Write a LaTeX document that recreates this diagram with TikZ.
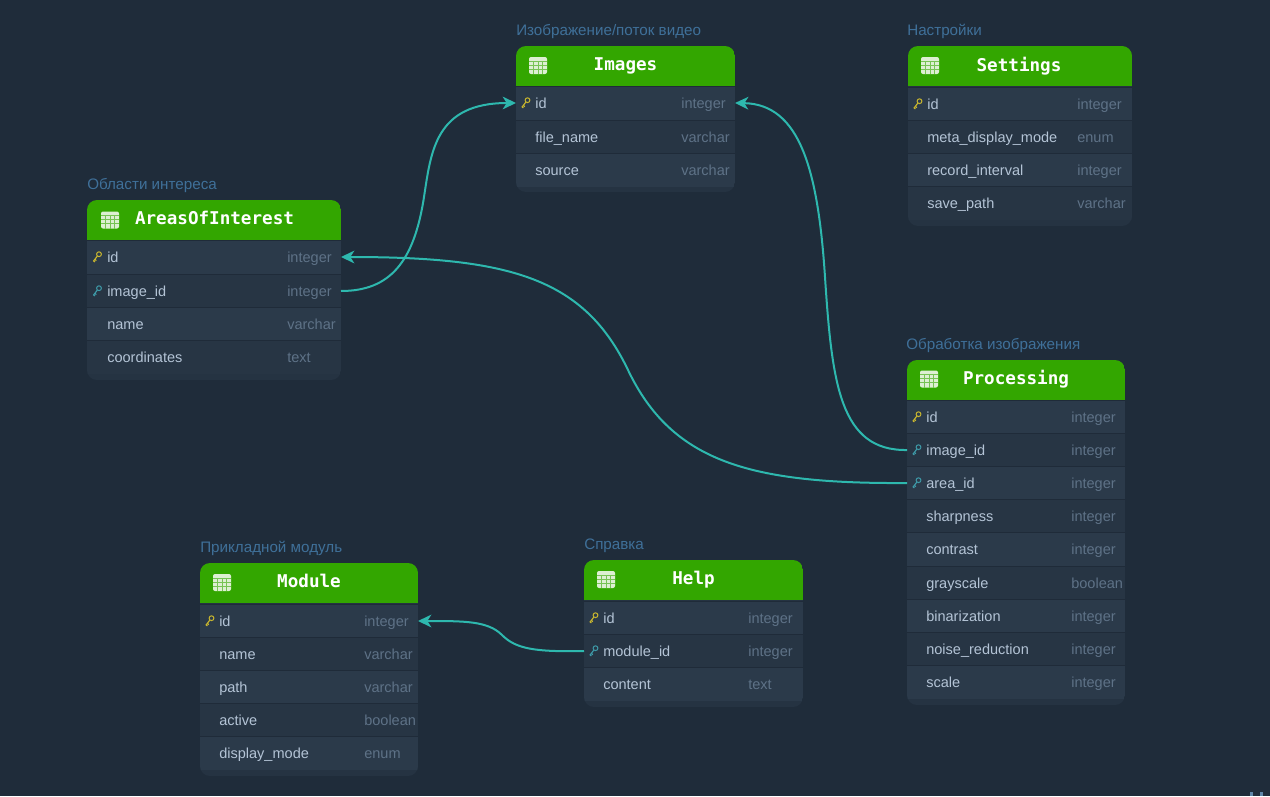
\documentclass[tikz,border=0pt]{standalone}
\usepackage{fontspec}
\setmainfont{Liberation Sans}
\setmonofont{DejaVu Sans Mono}
\usetikzlibrary{arrows.meta}

\definecolor{pagebg}{HTML}{1F2C3A}
\definecolor{bodyfill}{HTML}{253342}
\definecolor{rowodd}{HTML}{2B3A4A}
\definecolor{roweven}{HTML}{273544}
\definecolor{rowsep}{HTML}{1F2B39}
\definecolor{headgreen}{HTML}{33A600}
\definecolor{captionblue}{HTML}{3F7099}
\definecolor{nametext}{HTML}{B4C4D6}
\definecolor{typetext}{HTML}{5E7287}
\definecolor{linkteal}{HTML}{2EB8AE}
\definecolor{keygold}{HTML}{C8B62E}
\definecolor{keyteal}{HTML}{3E9AA8}
\definecolor{iconfill}{HTML}{DDEFD2}
\definecolor{tickblue}{HTML}{5F86A8}

\begin{document}
\begin{tikzpicture}[
    x=0.75pt,
    y=-0.75pt,
    caption/.style={anchor=base west,inner sep=0pt,text=captionblue,font=\fontsize{11.4}{13}\selectfont},
    title/.style={anchor=base,inner sep=0pt,text=white,font=\ttfamily\bfseries\fontsize{13.2}{15}\selectfont},
    rowband/.style={inner sep=0pt,outer sep=0pt,minimum height=24.8pt},
    rowband0/.style={rowband,fill=roweven},
    rowband1/.style={rowband,fill=rowodd},
    rowline/.style={draw=rowsep,line width=0.75pt},
    fieldname/.style={anchor=base west,inner sep=0pt,text=nametext,font=\fontsize{10.9}{12}\selectfont},
    fieldtype/.style={anchor=base west,inner sep=0pt,text=typetext,font=\fontsize{10.9}{12}\selectfont},
    link/.style={draw=linkteal,line width=1.5pt,-{Stealth[length=10pt,width=9.5pt,inset=3pt]}},
    keyicon/.pic={
        \draw[line width=0.75pt] (2,-2.8) circle (2.4);
        \draw[line width=0.85pt] (0.4,-1) -- (-3.6,4.2) (-2.2,2.4) -- (-0.6,3.6) (-3.4,3.9) -- (-2.1,5);
    },
    tableicon/.pic={
        \fill[iconfill,rounded corners=1.5pt] (-9,-8.5) rectangle (9,8.5);
        \foreach \gridx in {-4.5,0,4.5}
            \draw[headgreen!60!iconfill,line width=0.5pt] (\gridx,-4.5) -- (\gridx,8.5);
        \foreach \gridy in {-4.5,-0.5,3.5}
            \draw[headgreen!60!iconfill,line width=0.5pt] (-9,\gridy) -- (9,\gridy);
    }
]

\fill[pagebg] (0,0) rectangle (1270,796);
\useasboundingbox (0,0) rectangle (1270,796);

% --------------------------------------------------
% Images
% --------------------------------------------------

\begin{scope}[shift={(516,46)}]
    \node[caption] (images-caption) at (0,-11) {Изображение/поток видео};
    \clip[rounded corners=7.5pt] (0,0) rectangle (219,146);
    \fill[bodyfill] (0,0) rectangle (219,146);
    \fill[headgreen] (0,0) rectangle (219,40);
    \node[title] (images-title) at (109.5,24) {Images};
    \pic at (22,19.5) {tableicon};
    \foreach \rowkey/\rowy/\rowname/\rowtype [count=\rownum] in {id/57/id/integer,file/91/file\_name/varchar,source/124/source/varchar}
    {
        \pgfmathtruncatemacro\rowshade{mod(\rownum,2)}
        \node[rowband\rowshade,minimum width=164.25pt] (images-\rowkey) at (109.5,\rowy) {};
        \draw[rowline] (images-\rowkey.north west) -- (images-\rowkey.north east);
        \node[fieldname] (images-\rowkey-name) at (19,\rowy+5) {\rowname};
        \node[fieldtype] (images-\rowkey-type) at (165,\rowy+5) {\rowtype};
    }
    \pic[color=keygold] at (9.5,57) {keyicon};
\end{scope}

% --------------------------------------------------
% Settings
% --------------------------------------------------

\begin{scope}[shift={(908,46)}]
    \node[caption] (settings-caption) at (-1,-11) {Настройки};
    \clip[rounded corners=7.5pt] (0,0) rectangle (224,180);
    \fill[bodyfill] (0,0) rectangle (224,180);
    \fill[headgreen] (0,0) rectangle (224,40);
    \node[title] (settings-title) at (111,25) {Settings};
    \pic at (22,19.5) {tableicon};
    \foreach \rowkey/\rowy/\rowname/\rowtype [count=\rownum] in {id/58/id/integer,meta/91/meta\_display\_mode/enum,record/124/record\_interval/integer,save/157/save\_path/varchar}
    {
        \pgfmathtruncatemacro\rowshade{mod(\rownum,2)}
        \node[rowband\rowshade,minimum width=168pt] (settings-\rowkey) at (112,\rowy) {};
        \draw[rowline] (settings-\rowkey.north west) -- (settings-\rowkey.north east);
        \node[fieldname] (settings-\rowkey-name) at (19,\rowy+5) {\rowname};
        \node[fieldtype] (settings-\rowkey-type) at (169,\rowy+5) {\rowtype};
    }
    \pic[color=keygold] at (9.5,58) {keyicon};
\end{scope}

% --------------------------------------------------
% AreasOfInterest
% --------------------------------------------------

\begin{scope}[shift={(87,200)}]
    \node[caption] (areas-caption) at (0,-11) {Области интереса};
    \clip[rounded corners=7.5pt] (0,0) rectangle (254,180);
    \fill[bodyfill] (0,0) rectangle (254,180);
    \fill[headgreen] (0,0) rectangle (254,40);
    \node[title] (areas-title) at (127.5,24) {AreasOfInterest};
    \pic at (23,20) {tableicon};
    \foreach \rowkey/\rowy/\rowname/\rowtype [count=\rownum] in {id/57/id/integer,image/91/image\_id/integer,name/124/name/varchar,coord/157/coordinates/text}
    {
        \pgfmathtruncatemacro\rowshade{mod(\rownum,2)}
        \node[rowband\rowshade,minimum width=190.5pt] (areas-\rowkey) at (127,\rowy) {};
        \draw[rowline] (areas-\rowkey.north west) -- (areas-\rowkey.north east);
        \node[fieldname] (areas-\rowkey-name) at (20,\rowy+5) {\rowname};
        \node[fieldtype] (areas-\rowkey-type) at (200,\rowy+5) {\rowtype};
    }
    \pic[color=keygold] at (10,57) {keyicon};
    \pic[color=keyteal] at (10,91) {keyicon};
\end{scope}

% --------------------------------------------------
% Processing
% --------------------------------------------------

\begin{scope}[shift={(907,360)}]
    \node[caption] (processing-caption) at (-1,-11) {Обработка изображения};
    \clip[rounded corners=7.5pt] (0,0) rectangle (218,345);
    \fill[bodyfill] (0,0) rectangle (218,345);
    \fill[headgreen] (0,0) rectangle (218,40);
    \node[title] (processing-title) at (109,24) {Processing};
    \pic at (22,19) {tableicon};
    \foreach \rowkey/\rowy/\rowname/\rowtype [count=\rownum] in {id/57/id/integer,image/90/image\_id/integer,area/123/area\_id/integer,sharp/156/sharpness/integer,contrast/189/contrast/integer,gray/223/grayscale/boolean,binar/256/binarization/integer,noise/289/noise\_reduction/integer,scale/322/scale/integer}
    {
        \pgfmathtruncatemacro\rowshade{mod(\rownum,2)}
        \node[rowband\rowshade,minimum width=163.5pt] (processing-\rowkey) at (109,\rowy) {};
        \draw[rowline] (processing-\rowkey.north west) -- (processing-\rowkey.north east);
        \node[fieldname] (processing-\rowkey-name) at (19,\rowy+5) {\rowname};
        \node[fieldtype] (processing-\rowkey-type) at (164,\rowy+5) {\rowtype};
    }
    \pic[color=keygold] at (9.5,57) {keyicon};
    \pic[color=keyteal] at (9.5,90) {keyicon};
    \pic[color=keyteal] at (9.5,123) {keyicon};
\end{scope}

% --------------------------------------------------
% Module
% --------------------------------------------------

\begin{scope}[shift={(200,563)}]
    \node[caption] (module-caption) at (0,-11) {Прикладной модуль};
    \clip[rounded corners=7.5pt] (0,0) rectangle (218,213);
    \fill[bodyfill] (0,0) rectangle (218,213);
    \fill[headgreen] (0,0) rectangle (218,40);
    \node[title] (module-title) at (109,24) {Module};
    \pic at (22,19.5) {tableicon};
    \foreach \rowkey/\rowy/\rowname/\rowtype [count=\rownum] in {id/58/id/integer,name/91/name/varchar,path/124/path/varchar,active/157/active/boolean,display/190/display\_mode/enum}
    {
        \pgfmathtruncatemacro\rowshade{mod(\rownum,2)}
        \node[rowband\rowshade,minimum width=163.5pt] (module-\rowkey) at (109,\rowy) {};
        \draw[rowline] (module-\rowkey.north west) -- (module-\rowkey.north east);
        \node[fieldname] (module-\rowkey-name) at (19,\rowy+5) {\rowname};
        \node[fieldtype] (module-\rowkey-type) at (164,\rowy+5) {\rowtype};
    }
    \pic[color=keygold] at (9.5,58) {keyicon};
\end{scope}

% --------------------------------------------------
% Help
% --------------------------------------------------

\begin{scope}[shift={(584,560)}]
    \node[caption] (help-caption) at (0,-11) {Справка};
    \clip[rounded corners=7.5pt] (0,0) rectangle (219,147);
    \fill[bodyfill] (0,0) rectangle (219,147);
    \fill[headgreen] (0,0) rectangle (219,40);
    \node[title] (help-title) at (109.5,24) {Help};
    \pic at (22,19.5) {tableicon};
    \foreach \rowkey/\rowy/\rowname/\rowtype [count=\rownum] in {id/58/id/integer,module/91/module\_id/integer,content/124/content/text}
    {
        \pgfmathtruncatemacro\rowshade{mod(\rownum,2)}
        \node[rowband\rowshade,minimum width=164.25pt] (help-\rowkey) at (109.5,\rowy) {};
        \draw[rowline] (help-\rowkey.north west) -- (help-\rowkey.north east);
        \node[fieldname] (help-\rowkey-name) at (19,\rowy+5) {\rowname};
        \node[fieldtype] (help-\rowkey-type) at (164,\rowy+5) {\rowtype};
    }
    \pic[color=keygold] at (9.5,58) {keyicon};
    \pic[color=keyteal] at (9.5,91) {keyicon};
\end{scope}

% --------------------------------------------------
% References
% --------------------------------------------------

\draw[link] (areas-image.east) .. controls (390,291) and (414,262) .. (424,197)
    .. controls (431,152) and (435,103) .. (images-id.west);
\draw[link] (processing-area.west) .. controls (750,484) and (672,462) .. (628,370)
    .. controls (584,278) and (510,257) .. (areas-id.east);
\draw[link] (processing-image.west) .. controls (840,451) and (832,384) .. (825,277)
    .. controls (818,170) and (800,104) .. (images-id.east);
\draw[link] (help-module.west) .. controls (535,652) and (516,649) .. (502,635)
    .. controls (488,621) and (465,621) .. (module-id.east);

% --------------------------------------------------
% Corner marks
% --------------------------------------------------

\fill[tickblue] (1250,792) rectangle (1253,796);
\fill[tickblue] (1260,792) rectangle (1263,796);

\end{tikzpicture}
\end{document}
